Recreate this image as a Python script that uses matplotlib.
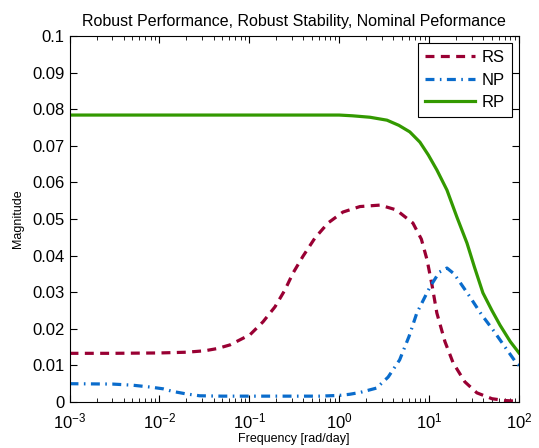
import numpy as np
import matplotlib.pyplot as plt

plt.rcParams['font.family'] = ['Liberation Sans', 'DejaVu Sans']

# frequencies (rad/day) and magnitudes
freq_rs = [1e-3, 3e-3, 1e-2, 2e-2, 3.2e-2, 4.4e-2, 6.1e-2, 7.6e-2, 1.02e-1, 1.42e-1, 1.93e-1,
           2.49e-1, 3.06e-1, 3.95e-1, 5.37e-1, 7.5e-1, 1.1, 1.7, 2.85, 4.3, 6.6, 8.2,
           9.5, 10.8, 12.2, 15.0, 18.5, 25.0, 34.0, 50.0, 70.0, 100.0]
rs = [0.0133, 0.0133, 0.0134, 0.0136, 0.0140, 0.0146, 0.0156, 0.0168, 0.0184, 0.0219, 0.0260,
      0.0306, 0.0352, 0.0398, 0.0448, 0.0489, 0.0519, 0.0534, 0.0538, 0.0525, 0.0489, 0.0445,
      0.0388, 0.0318, 0.0243, 0.0165, 0.0107, 0.0055, 0.0025, 0.0009, 0.0004, 0.0002]

freq_np = [1e-3, 3e-3, 5e-3, 7.8e-3, 1.1e-2, 1.4e-2, 2e-2, 2.8e-2, 5e-2, 1e-1, 3e-1,
           6e-1, 1.0, 1.3, 1.7, 2.6, 3.5, 4.7, 6.0, 7.3, 10.2, 13.0, 15.8, 19.0,
           28.5, 38.0, 51.4, 70.0, 95.0, 100.0]
np_ = [0.0050, 0.0049, 0.0046, 0.0041, 0.0036, 0.0029, 0.0022, 0.0017, 0.0016, 0.0016, 0.0016,
       0.0016, 0.0018, 0.0021, 0.0026, 0.0038, 0.0068, 0.0115, 0.0180, 0.0243, 0.0314, 0.0355,
       0.0366, 0.0350, 0.0287, 0.0240, 0.0197, 0.0150, 0.0104, 0.0100]

freq_rp = [1e-3, 1e-2, 1e-1, 1.0, 1.4, 2.2, 3.4, 4.6, 6.1, 7.9, 9.8, 12.2, 15.8,
           20.4, 26.4, 32.0, 39.7, 50.0, 61.5, 80.0, 100.0]
rp = [0.0784, 0.0784, 0.0784, 0.0784, 0.0782, 0.0778, 0.0770, 0.0756, 0.0738, 0.0710, 0.0675, 0.0634,
      0.0579, 0.0505, 0.0434, 0.0368, 0.0298, 0.0250, 0.0210, 0.0165, 0.0134]

fig = plt.figure(figsize=(5.39, 4.48), dpi=100)
ax = fig.add_axes([69.5 / 539, 46 / 448, 449.5 / 539, 366 / 448])

ax.semilogx(freq_rs, rs, color='#990033', lw=2.3, dashes=(2.8, 2.0), label='RS')
ax.semilogx(freq_np, np_, color='#0a6ccc', lw=2.3, dashes=(2.8, 1.7, 0.5, 1.7), label='NP')
ax.semilogx(freq_rp, rp, '-', color='#339900', lw=2.3, label='RP')

ax.set_xlim(1e-3, 1e2)
ax.set_ylim(0, 0.1)
ax.set_yticks(np.arange(0, 0.11, 0.01))
ax.set_yticklabels(['0', '0.01', '0.02', '0.03', '0.04', '0.05', '0.06',
                    '0.07', '0.08', '0.09', '0.1'])
ax.tick_params(which='both', direction='in', top=True, right=True, labelsize=12)
ax.tick_params(axis='x', which='major', pad=7)
ax.tick_params(which='major', length=5)
ax.tick_params(which='minor', length=3)

ax.set_title('Robust Performance, Robust Stability, Nominal Peformance', fontsize=11.5, pad=7)
ax.set_xlabel('Frequency [rad/day]', fontsize=9, labelpad=1)
ax.set_ylabel('Magnitude', fontsize=9, labelpad=6)

leg = ax.legend(loc='upper right', fontsize=12, fancybox=False, framealpha=1,
                edgecolor='black', handlelength=3.0, handletextpad=0.4,
                labelspacing=0.45, borderaxespad=0.45)
leg.get_frame().set_linewidth(0.8)

fig.savefig('out.png', dpi=100)
